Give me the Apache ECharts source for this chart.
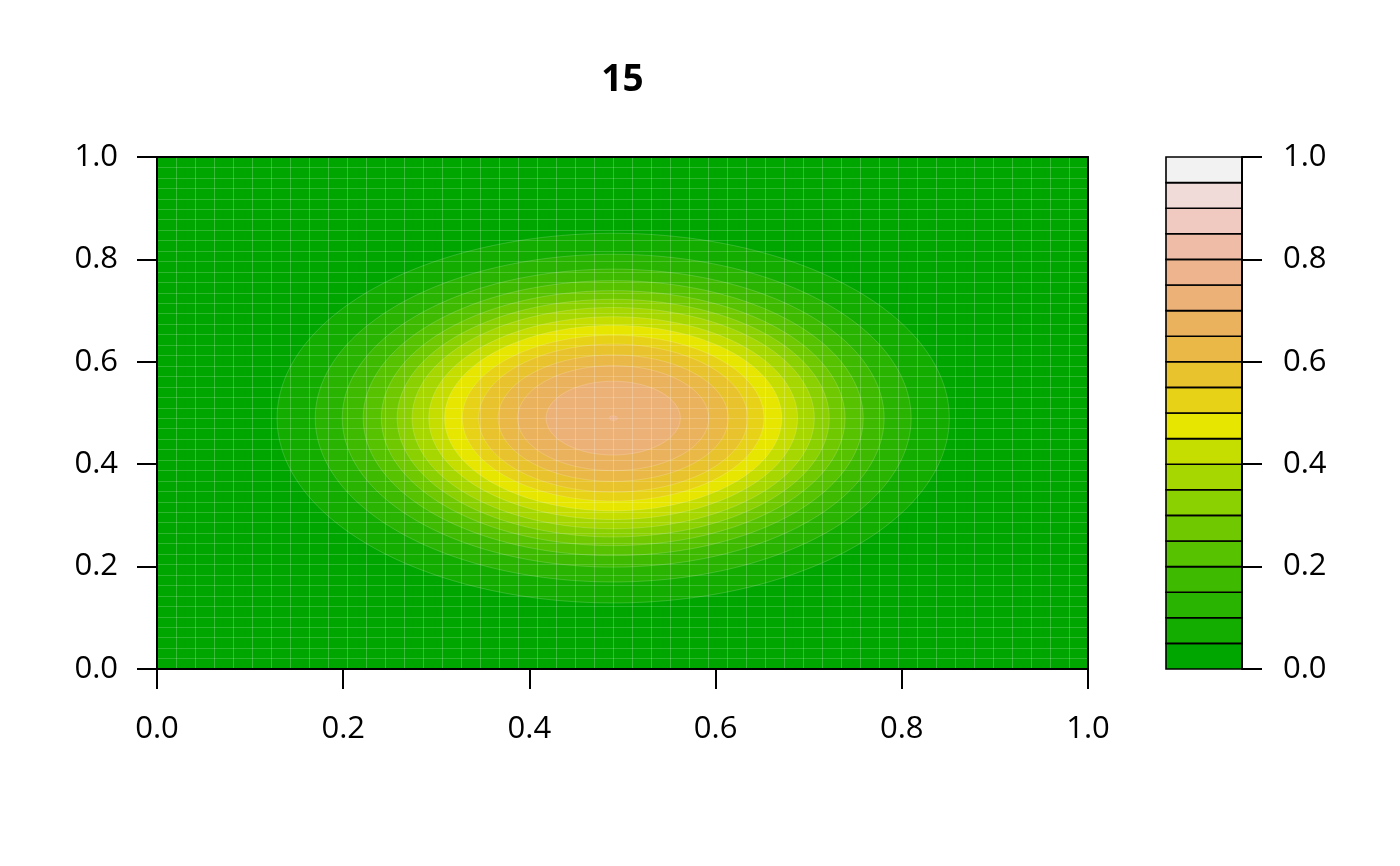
<!DOCTYPE html>
<html><head><meta charset="utf-8">
<script src="https://cdn.jsdelivr.net/npm/echarts@6/dist/echarts.min.js"></script>
<style>html,body{margin:0;padding:0;background:#fff}#c{width:1400px;height:866px}</style>
</head><body><div id="c"></div>
<script>
// ---- data ----
const chartTitle = '15';
const tickValues = [0, 0.2, 0.4, 0.6, 0.8, 1.0];
const tickLabels = ['0.0', '0.2', '0.4', '0.6', '0.8', '1.0'];
// colour key boundaries (20 bands of terrain colours)
const levelBounds = [0, 0.05, 0.1, 0.15, 0.2, 0.25, 0.3, 0.35, 0.4, 0.45, 0.5,
                     0.55, 0.6, 0.65, 0.7, 0.75, 0.8, 0.85, 0.9, 0.95, 1.0];
const bandColors = ['#00A600','#13AD00','#28B400','#3EBB00','#56C200','#70C900','#8BD000','#A7D700','#C5DE00','#E6E600',
                    '#E7D217','#E8C32E','#E9B846','#EBB25E','#ECB176','#EDB48E','#EEBCA7','#F0C9C0','#F1DBD9','#F2F2F2'];
// peak location of the surface
const peakX = 0.49;
const peakY = 0.49;
// contour levels and their (circular) radius around the peak, in data units
const contourLevels = [0.05, 0.10, 0.15, 0.20, 0.25, 0.30, 0.35, 0.40, 0.45, 0.50, 0.55, 0.60, 0.65, 0.70, 0.75];
const contourRadius = [0.361, 0.320, 0.291, 0.2685, 0.249, 0.232, 0.216, 0.198, 0.181, 0.162, 0.1445, 0.1235, 0.1026, 0.072, 0.0045];
// mesh of the underlying grid (50 x 50 points)
const meshCount = 50;

const FONT = '"Open Sans", "Noto Sans", sans-serif';
const chart = echarts.init(document.getElementById('c'), null, {renderer: 'canvas'});

function bandColor(level) {
  for (let i = 0; i < bandColors.length; i++) {
    if (level >= levelBounds[i] - 1e-9 && level < levelBounds[i + 1] - 1e-9) return bandColors[i];
  }
  return bandColors[bandColors.length - 1];
}

const contourData = [[peakX, peakY, -1, 0]].concat(
  contourLevels.map((l, i) => [peakX, peakY, contourRadius[i], l]));

const colorBarData = bandColors.map((c, i) => [levelBounds[i], levelBounds[i + 1], i]);

const axisLineStyle = {color: '#000', width: 2};
const labelStyle = {fontSize: 31, color: '#000', fontFamily: FONT};
const fmt = v => tickLabels[tickValues.findIndex(t => Math.abs(t - v) < 1e-9)];

const option = {
  animation: false,
  backgroundColor: '#fff',
  graphic: [{
    type: 'text', x: 622.5, y: 80, z: 10,
    style: {text: chartTitle, font: 'bold 37px ' + FONT, fill: '#000', textAlign: 'center', textVerticalAlign: 'middle'}
  }],
  grid: [
    {left: 157, top: 157, width: 931, height: 512, show: false},
    {left: 1166, top: 157, width: 76, height: 512, show: false}
  ],
  xAxis: [
    {gridIndex: 0, type: 'value', min: 0, max: 1, position: 'bottom', z: 5,
     axisLine: {show: true, onZero: false, lineStyle: axisLineStyle},
     axisTick: {show: true, length: 20, inside: false, lineStyle: axisLineStyle, customValues: tickValues},
     axisLabel: {show: true, margin: 45, ...labelStyle, customValues: tickValues, formatter: fmt},
     splitLine: {show: false}},
    {gridIndex: 0, type: 'value', min: 0, max: 1, position: 'top', z: 5,
     axisLine: {show: true, onZero: false, lineStyle: axisLineStyle},
     axisTick: {show: false}, axisLabel: {show: false}, splitLine: {show: false}},
    {gridIndex: 0, type: 'value', min: 0, max: 1, interval: 1 / (meshCount - 1), position: 'bottom', z: 3,
     axisLine: {show: false}, axisTick: {show: false}, axisLabel: {show: false},
     splitLine: {show: true, lineStyle: {color: 'rgba(255,255,255,0.22)', width: 1}}},
    {gridIndex: 1, type: 'value', min: 0, max: 1, show: false}
  ],
  yAxis: [
    {gridIndex: 0, type: 'value', min: 0, max: 1, position: 'left', z: 5,
     axisLine: {show: true, onZero: false, lineStyle: axisLineStyle},
     axisTick: {show: true, length: 20, inside: false, lineStyle: axisLineStyle, customValues: tickValues},
     axisLabel: {show: true, margin: 39, ...labelStyle, customValues: tickValues, formatter: fmt},
     splitLine: {show: false}},
    {gridIndex: 0, type: 'value', min: 0, max: 1, position: 'right', z: 5,
     axisLine: {show: true, onZero: false, lineStyle: axisLineStyle},
     axisTick: {show: false}, axisLabel: {show: false}, splitLine: {show: false}},
    {gridIndex: 0, type: 'value', min: 0, max: 1, interval: 1 / (meshCount - 1), position: 'left', z: 3,
     axisLine: {show: false}, axisTick: {show: false}, axisLabel: {show: false},
     splitLine: {show: true, lineStyle: {color: 'rgba(255,255,255,0.18)', width: 1}}},
    {gridIndex: 1, type: 'value', min: 0, max: 1, position: 'right', z: 5,
     axisLine: {show: true, onZero: false, lineStyle: axisLineStyle},
     axisTick: {show: true, length: 20, inside: false, lineStyle: axisLineStyle, customValues: tickValues},
     axisLabel: {show: true, margin: 41, ...labelStyle, customValues: tickValues, formatter: fmt},
     splitLine: {show: false}}
  ],
  series: [
    {
      type: 'custom', xAxisIndex: 0, yAxisIndex: 0, z: 1, clip: true,
      data: contourData,
      encode: {x: 0, y: 1},
      renderItem: function (params, api) {
        const cx = api.value(0), cy = api.value(1), r = api.value(2), lvl = api.value(3);
        if (r < 0) {
          const p0 = api.coord([0, 0]), p1 = api.coord([1, 1]);
          return {type: 'rect', shape: {x: p0[0], y: p1[1], width: p1[0] - p0[0], height: p0[1] - p1[1]},
                  style: {fill: bandColor(lvl)}};
        }
        const pts = [];
        const N = 240;
        for (let k = 0; k < N; k++) {
          const t = 2 * Math.PI * k / N;
          pts.push(api.coord([cx + r * Math.cos(t), cy + r * Math.sin(t)]));
        }
        return {type: 'polygon', shape: {points: pts},
                style: {fill: bandColor(lvl), stroke: 'rgba(255,255,255,0.22)', lineWidth: 0.8}};
      }
    },
    {
      type: 'custom', xAxisIndex: 3, yAxisIndex: 3, z: 2,
      data: colorBarData,
      encode: {y: [0, 1]},
      renderItem: function (params, api) {
        const lo = api.value(0), hi = api.value(1), i = api.value(2);
        const p0 = api.coord([0, lo]), p1 = api.coord([1, hi]);
        return {type: 'rect', shape: {x: p0[0], y: p1[1], width: p1[0] - p0[0], height: p0[1] - p1[1]},
                style: {fill: bandColors[i], stroke: '#000', lineWidth: 1.6}};
      }
    }
  ]
};
chart.setOption(option);
</script>
</body></html>
